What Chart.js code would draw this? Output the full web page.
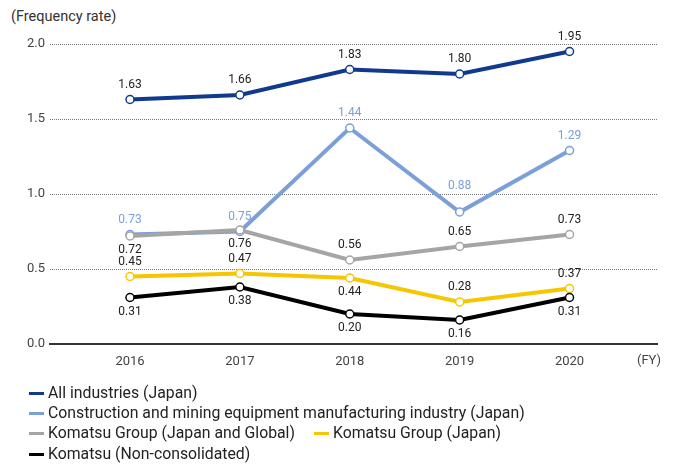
<!DOCTYPE html>
<html>
<head>
<meta charset="utf-8">
<script src="https://cdn.jsdelivr.net/npm/chart.js@4/dist/chart.umd.min.js"></script>
<style>
  body { margin: 0; background: #fff; font-family: Roboto, "Noto Sans", sans-serif; }
  #wrap { position: relative; width: 677px; height: 466px; }
  #chartBox { position: absolute; left: 0; top: 0; width: 677px; height: 380px; }
  #legend { position: absolute; left: 0; top: 0; width: 677px; height: 466px; pointer-events: none; }
  .item { position: absolute; font-size: 15.8px; color: #222; line-height: 18px; white-space: nowrap; }
  .item span.mk { position: absolute; left: -19px; top: 8px; width: 15px; height: 3px; }
  .title { position: absolute; left: 11px; top: 8px; font-size: 14.5px; color: #333; }
</style>
</head>
<body>
<div id="wrap">
  <div class="title">(Frequency rate)</div>
  <div id="chartBox"><canvas id="chart"></canvas></div>
  <div id="legend"></div>
</div>
<script>
// Data
const years = [2016, 2017, 2018, 2019, 2020];
const yTicks = [0, 0.5, 1.0, 1.5, 2.0];
const allIndustries = [1.63, 1.66, 1.83, 1.80, 1.95];
const construction = [0.73, 0.75, 1.44, 0.88, 1.29];
const groupGlobal = [0.72, 0.76, 0.56, 0.65, 0.73];
const groupJapan = [0.45, 0.47, 0.44, 0.28, 0.37];
const nonConsolidated = [0.31, 0.38, 0.20, 0.16, 0.31];

// where each value label sits: t = above point, h = well above, b = below
const allPos = ['t', 't', 't', 't', 't'];
const constructionPos = ['t', 't', 't', 'h', 't'];
const globalPos = ['b', 'b', 't', 't', 't'];
const japanPos = ['t', 't', 'b', 't', 't'];
const nonPos = ['b', 'b', 'b', 'b', 'b'];
const labelShift = { t: -15, h: -26, b: 14 };

const seriesNames = [
    'All industries (Japan)',
    'Construction and mining equipment manufacturing industry (Japan)',
    'Komatsu Group (Japan and Global)',
    'Komatsu Group (Japan)',
    'Komatsu (Non-consolidated)'
];
const colors = ['#0f3a8d', '#7b9fd7', '#a5a5a5', '#f6c600', '#000000'];
const labelColors = ['#222', '#7b9fd7', '#222', '#222', '#222'];

function makeSet(idx, values, pos, order) {
    return {
        label: seriesNames[idx],
        data: values.map((v, i) => ({ x: years[i], y: v })),
        borderColor: colors[idx],
        backgroundColor: '#fff',
        borderWidth: 4,
        pointRadius: 4,
        pointBorderWidth: 1.5,
        pointBorderColor: colors[idx],
        pointBackgroundColor: '#fff',
        tension: 0,
        order: order,
        labelPos: pos,
        labelColor: labelColors[idx]
    };
}

// value labels + (FY)
const valueLabels = {
    id: 'valueLabels',
    afterDatasetsDraw(chart) {
        const ctx = chart.ctx;
        ctx.save();
        ctx.font = '12px Roboto, sans-serif';
        ctx.textAlign = 'center';
        ctx.textBaseline = 'middle';
        chart.data.datasets.forEach((ds, di) => {
            const meta = chart.getDatasetMeta(di);
            meta.data.forEach((pt, i) => {
                ctx.fillStyle = ds.labelColor;
                ctx.fillText(ds.data[i].y.toFixed(2), pt.x, pt.y + labelShift[ds.labelPos[i]]);
            });
        });
        ctx.font = '13px Roboto, sans-serif';
        ctx.fillStyle = '#444';
        ctx.fillText('(FY)', 649, chart.chartArea.bottom + 17);
        ctx.restore();
    }
};

const chart = new Chart(document.getElementById('chart').getContext('2d'), {
    type: 'line',
    data: {
        datasets: [
            makeSet(0, allIndustries, allPos, 0),
            makeSet(1, construction, constructionPos, 3),
            makeSet(2, groupGlobal, globalPos, 2),
            makeSet(3, groupJapan, japanPos, 4),
            makeSet(4, nonConsolidated, nonPos, 1)
        ]
    },
    options: {
        responsive: true,
        maintainAspectRatio: false,
        animation: false,
        layout: { padding: { top: 44, right: 20, left: 0, bottom: 0 } },
        plugins: { legend: { display: false }, tooltip: { enabled: false } },
        scales: {
            x: {
                type: 'linear',
                min: 2015.272,
                max: 2020.796,
                afterBuildTicks: s => { s.ticks = years.map(v => ({ value: v })); },
                afterFit: s => { s.height = 36; },
                grid: { display: false, drawTicks: false },
                border: { display: true, color: '#333', width: 2 },
                ticks: {
                    padding: 10,
                    color: '#444',
                    font: { family: 'Roboto', size: 13 },
                    callback: v => String(v),
                    maxRotation: 0
                }
            },
            y: {
                min: 0,
                max: 2,
                afterBuildTicks: s => { s.ticks = yTicks.map(v => ({ value: v })); },
                afterFit: s => { s.width = 50; },
                grid: {
                    color: ctx => ctx.tick && ctx.tick.value === 0 ? 'rgba(0,0,0,0)' : '#777',
                    lineWidth: 1,
                    drawTicks: false
                },
                border: { display: false, dash: [1, 1] },
                ticks: {
                    padding: 5,
                    color: '#444',
                    font: { family: 'Roboto', size: 13 },
                    callback: v => v.toFixed(1)
                }
            }
        }
    },
    plugins: [valueLabels]
});

// Legend
const legendSpots = [
    { left: 48, top: 384 },
    { left: 48, top: 404 },
    { left: 48, top: 424 },
    { left: 333, top: 424 },
    { left: 48, top: 445 }
];
const legend = document.getElementById('legend');
seriesNames.forEach((name, i) => {
    const d = document.createElement('div');
    d.className = 'item';
    d.style.left = legendSpots[i].left + 'px';
    d.style.top = legendSpots[i].top + 'px';
    d.innerHTML = `<span class="mk" style="background:${colors[i]}"></span>${name}`;
    legend.appendChild(d);
});
</script>
</body>
</html>
